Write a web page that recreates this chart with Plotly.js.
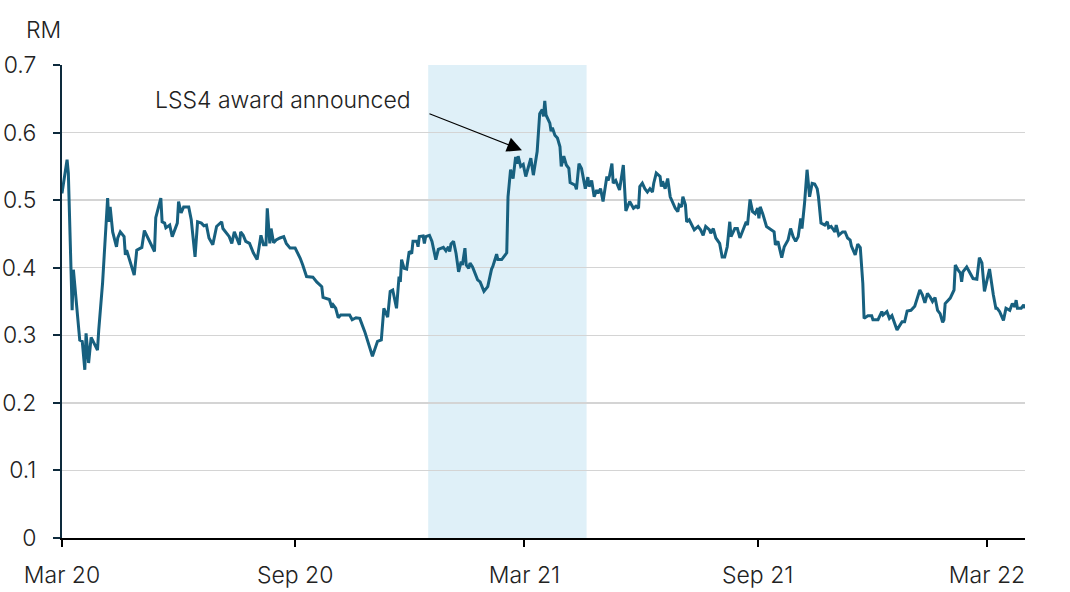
<!DOCTYPE html>
<html>
<head>
<meta charset="utf-8">
<script src="https://cdn.plot.ly/plotly-3.0.1.min.js"></script>
<style>html,body{margin:0;padding:0;background:#fff;}#chart{width:1070px;height:592px;}</style>
</head>
<body>
<div id="chart"></div>
<script>
const dates = [
"2020-03-01","2020-03-05","2020-03-06","2020-03-09","2020-03-10","2020-03-12","2020-03-15","2020-03-17","2020-03-19","2020-03-20",
"2020-03-22","2020-03-24","2020-03-26","2020-03-29","2020-03-30","2020-04-02","2020-04-06","2020-04-07","2020-04-08","2020-04-10",
"2020-04-13","2020-04-14","2020-04-16","2020-04-19","2020-04-20","2020-04-21","2020-04-27","2020-04-29","2020-05-03","2020-05-05",
"2020-05-13","2020-05-14","2020-05-18","2020-05-19","2020-05-21","2020-05-22","2020-05-25","2020-05-27","2020-05-31","2020-06-01",
"2020-06-03","2020-06-05","2020-06-09","2020-06-11","2020-06-14","2020-06-16","2020-06-19","2020-06-21","2020-06-23","2020-06-25",
"2020-06-28","2020-07-01","2020-07-05","2020-07-06","2020-07-11","2020-07-13","2020-07-15","2020-07-17","2020-07-19","2020-07-20",
"2020-07-22","2020-07-24","2020-07-27","2020-07-30","2020-08-02","2020-08-05","2020-08-07","2020-08-09","2020-08-10","2020-08-12",
"2020-08-13","2020-08-15","2020-08-17","2020-08-20","2020-08-23","2020-08-25","2020-08-28","2020-09-01","2020-09-05","2020-09-07",
"2020-09-10","2020-09-15","2020-09-18","2020-09-22","2020-09-23","2020-09-28","2020-09-30","2020-10-01","2020-10-03","2020-10-05",
"2020-10-07","2020-10-14","2020-10-16","2020-10-19","2020-10-22","2020-10-26","2020-11-01","2020-11-05","2020-11-08","2020-11-10",
"2020-11-11","2020-11-13","2020-11-15","2020-11-17","2020-11-20","2020-11-22","2020-11-23","2020-11-24","2020-11-26","2020-11-28",
"2020-11-30","2020-12-02","2020-12-03","2020-12-06","2020-12-07","2020-12-08","2020-12-11","2020-12-12","2020-12-13","2020-12-16",
"2020-12-18","2020-12-19","2020-12-21","2020-12-23","2020-12-27","2020-12-29","2020-12-31","2021-01-01","2021-01-02","2021-01-04",
"2021-01-06","2021-01-08","2021-01-10","2021-01-11","2021-01-13","2021-01-14","2021-01-16","2021-01-17","2021-01-19","2021-01-23",
"2021-01-25","2021-01-28","2021-01-31","2021-02-03","2021-02-04","2021-02-07","2021-02-08","2021-02-11","2021-02-15","2021-02-16",
"2021-02-18","2021-02-20","2021-02-22","2021-02-23","2021-02-24","2021-02-26","2021-02-28","2021-03-02","2021-03-04","2021-03-06",
"2021-03-08","2021-03-11","2021-03-13","2021-03-15","2021-03-16","2021-03-17","2021-03-18","2021-03-21","2021-03-22","2021-03-23",
"2021-03-25","2021-03-27","2021-03-29","2021-03-30","2021-04-01","2021-04-03","2021-04-05","2021-04-06","2021-04-10","2021-04-11",
"2021-04-13","2021-04-15","2021-04-16","2021-04-18","2021-04-20","2021-04-21","2021-04-23","2021-04-25","2021-04-27","2021-04-28",
"2021-04-30","2021-05-02","2021-05-05","2021-05-06","2021-05-07","2021-05-09","2021-05-10","2021-05-12","2021-05-15","2021-05-18",
"2021-05-20","2021-05-23","2021-05-26","2021-05-28","2021-05-30","2021-05-31","2021-06-02","2021-06-04","2021-06-06","2021-06-08",
"2021-06-10","2021-06-11","2021-06-13","2021-06-16","2021-06-17","2021-06-18","2021-06-20","2021-06-22","2021-06-24","2021-06-28",
"2021-06-30","2021-07-01","2021-07-03","2021-07-04","2021-07-06","2021-07-07","2021-07-09","2021-07-12","2021-07-13","2021-07-16",
"2021-07-18","2021-07-20","2021-07-22","2021-07-25","2021-07-26","2021-07-28","2021-07-30","2021-08-02","2021-08-04","2021-08-06",
"2021-08-08","2021-08-10","2021-08-11","2021-08-14","2021-08-16","2021-08-18","2021-08-22","2021-08-23","2021-08-24","2021-08-26",
"2021-08-28","2021-08-30","2021-09-01","2021-09-02","2021-09-03","2021-09-05","2021-09-08","2021-09-12","2021-09-14","2021-09-15",
"2021-09-17","2021-09-20","2021-09-22","2021-09-25","2021-09-27","2021-09-29","2021-10-01","2021-10-03","2021-10-05","2021-10-06",
"2021-10-08","2021-10-10","2021-10-12","2021-10-14","2021-10-16","2021-10-18","2021-10-19","2021-10-21","2021-10-24","2021-10-26",
"2021-10-27","2021-10-29","2021-11-01","2021-11-02","2021-11-04","2021-11-07","2021-11-09","2021-11-11","2021-11-13","2021-11-14",
"2021-11-17","2021-11-19","2021-11-21","2021-11-23","2021-11-24","2021-11-27","2021-11-30","2021-12-01","2021-12-05","2021-12-08",
"2021-12-09","2021-12-12","2021-12-14","2021-12-16","2021-12-18","2021-12-20","2021-12-24","2021-12-26","2021-12-28","2021-12-31",
"2022-01-03","2022-01-05","2022-01-07","2022-01-09","2022-01-11","2022-01-13","2022-01-15","2022-01-17","2022-01-19","2022-01-21",
"2022-01-23","2022-01-25","2022-01-26","2022-01-27","2022-01-31","2022-02-03","2022-02-04","2022-02-06","2022-02-08","2022-02-09",
"2022-02-10","2022-02-13","2022-02-15","2022-02-18","2022-02-21","2022-02-23","2022-02-25","2022-02-27","2022-03-03","2022-03-05",
"2022-03-06","2022-03-08","2022-03-09","2022-03-11","2022-03-14","2022-03-16","2022-03-19","2022-03-21","2022-03-23","2022-03-24",
"2022-03-25","2022-03-28","2022-03-30","2022-03-31"
];
const prices = [
0.510,0.560,0.540,0.337,0.397,0.350,0.293,0.291,0.249,0.303,
0.259,0.297,0.290,0.278,0.308,0.377,0.503,0.468,0.490,0.453,
0.431,0.444,0.453,0.446,0.419,0.426,0.389,0.426,0.430,0.455,
0.424,0.474,0.503,0.468,0.466,0.459,0.463,0.446,0.466,0.498,
0.481,0.490,0.490,0.471,0.416,0.468,0.466,0.462,0.463,0.444,
0.434,0.461,0.468,0.458,0.446,0.436,0.453,0.444,0.434,0.453,
0.448,0.439,0.436,0.422,0.412,0.448,0.434,0.434,0.488,0.436,
0.458,0.437,0.441,0.444,0.446,0.436,0.429,0.429,0.414,0.404,
0.387,0.386,0.379,0.372,0.356,0.353,0.341,0.345,0.340,0.326,
0.330,0.330,0.323,0.326,0.325,0.305,0.269,0.291,0.293,0.340,
0.335,0.327,0.365,0.367,0.340,0.387,0.379,0.412,0.399,0.398,
0.424,0.421,0.439,0.439,0.431,0.446,0.447,0.436,0.446,0.448,
0.439,0.429,0.412,0.427,0.430,0.425,0.431,0.424,0.435,0.439,
0.421,0.394,0.409,0.404,0.429,0.404,0.399,0.407,0.401,0.382,
0.379,0.365,0.372,0.398,0.402,0.420,0.412,0.412,0.422,0.505,
0.545,0.532,0.564,0.554,0.565,0.550,0.553,0.535,0.549,0.562,
0.537,0.572,0.628,0.634,0.624,0.647,0.626,0.614,0.602,0.607,
0.596,0.592,0.579,0.550,0.565,0.552,0.547,0.526,0.522,0.516,
0.554,0.547,0.537,0.517,0.534,0.520,0.529,0.505,0.515,0.510,
0.517,0.498,0.535,0.529,0.535,0.554,0.525,0.529,0.515,0.552,
0.484,0.498,0.488,0.491,0.488,0.520,0.525,0.517,0.512,0.517,
0.512,0.525,0.540,0.535,0.520,0.528,0.517,0.532,0.505,0.488,
0.483,0.493,0.490,0.505,0.493,0.468,0.471,0.458,0.456,0.461,
0.456,0.448,0.461,0.456,0.451,0.458,0.444,0.436,0.416,0.416,
0.431,0.468,0.446,0.458,0.458,0.444,0.463,0.468,0.463,0.501,
0.483,0.480,0.488,0.473,0.490,0.480,0.461,0.456,0.453,0.434,
0.439,0.415,0.431,0.441,0.458,0.446,0.439,0.446,0.473,0.458,
0.495,0.545,0.505,0.525,0.524,0.517,0.505,0.466,0.463,0.468,
0.459,0.461,0.453,0.463,0.448,0.453,0.453,0.444,0.441,0.432,
0.419,0.435,0.430,0.377,0.325,0.329,0.329,0.323,0.323,0.335,
0.330,0.335,0.325,0.329,0.318,0.308,0.320,0.320,0.336,0.337,
0.343,0.355,0.367,0.360,0.348,0.362,0.357,0.350,0.356,0.337,
0.332,0.319,0.323,0.347,0.355,0.367,0.404,0.397,0.392,0.379,
0.394,0.401,0.394,0.384,0.383,0.415,0.407,0.365,0.398,0.367,
0.360,0.340,0.340,0.335,0.322,0.340,0.337,0.347,0.342,0.352,
0.340,0.340,0.345,0.340
];
const tickDates = ["2020-03-01","2020-09-01","2021-03-01","2021-09-01","2022-03-01"];
const tickLabels = ["Mar 20","Sep 20","Mar 21","Sep 21","Mar 22"];
const yTicks = [0,0.1,0.2,0.3,0.4,0.5,0.6,0.7];
const yTickLabels = ["0","0.1","0.2","0.3","0.4","0.5","0.6","0.7"];
const shadeStart = "2020-12-15";
const shadeEnd = "2021-04-19";
const arrowDate = "2021-02-27";
const arrowValue = 0.574;

const FONT = "Inter, 'Noto Sans', sans-serif";
const FS = 23;
const trace = {
  x: dates, y: prices, type: "scatter", mode: "lines",
  line: {color: "#17607f", width: 3}, hoverinfo: "skip"
};
const layout = {
  width: 1070, height: 592,
  margin: {l: 62, r: 45, t: 65, b: 54},
  paper_bgcolor: "#fff", plot_bgcolor: "rgba(0,0,0,0)",
  showlegend: false,
  font: {family: FONT, size: FS, color: "#222", weight: 300},
  xaxis: {
    type: "date", range: ["2020-03-01", "2022-03-31"],
    tickvals: tickDates, ticktext: tickLabels,
    showgrid: false, zeroline: false,
    showline: true, linecolor: "#000", linewidth: 2,
    ticks: "outside", ticklen: 7, tickwidth: 2, tickcolor: "#000",
    ticklabelstandoff: 8,
    tickfont: {family: FONT, size: FS, color: "#222", weight: 300}
  },
  yaxis: {
    range: [0, 0.7], tickvals: yTicks, ticktext: yTickLabels,
    showgrid: true, gridcolor: "#d4d4d4", gridwidth: 1.5,
    zeroline: false, showline: true, linecolor: "#0d2a3c", linewidth: 2,
    ticks: "outside", ticklen: 7, tickwidth: 2, tickcolor: "#0d2a3c",
    ticklabelstandoff: 12,
    tickfont: {family: FONT, size: FS, color: "#222", weight: 300}
  },
  shapes: [{
    type: "rect", xref: "x", yref: "paper",
    x0: shadeStart, x1: shadeEnd, y0: 0, y1: 1,
    fillcolor: "#dff0f8", line: {width: 0}, layer: "below"
  }],
  annotations: [
    {xref: "paper", yref: "paper", x: -0.0197, y: 1.074, text: "RM",
     showarrow: false, xanchor: "center", yanchor: "middle",
     font: {family: FONT, size: FS, color: "#222", weight: 300}},
    {xref: "paper", yref: "paper", x: 0.3645, y: 0.926, text: "LSS4 award announced",
     showarrow: false, xanchor: "right", yanchor: "middle",
     font: {family: FONT, size: FS, color: "#222", weight: 300}},
    {xref: "x", yref: "y", x: arrowDate, y: arrowValue, text: "",
     showarrow: true, ax: -94, ay: -37, arrowhead: 2, arrowsize: 2.7,
     arrowwidth: 1.1, arrowcolor: "#000", standoff: 0}
  ]
};
Plotly.newPlot("chart", [trace], layout, {staticPlot: true, displayModeBar: false});
</script>
</body>
</html>
